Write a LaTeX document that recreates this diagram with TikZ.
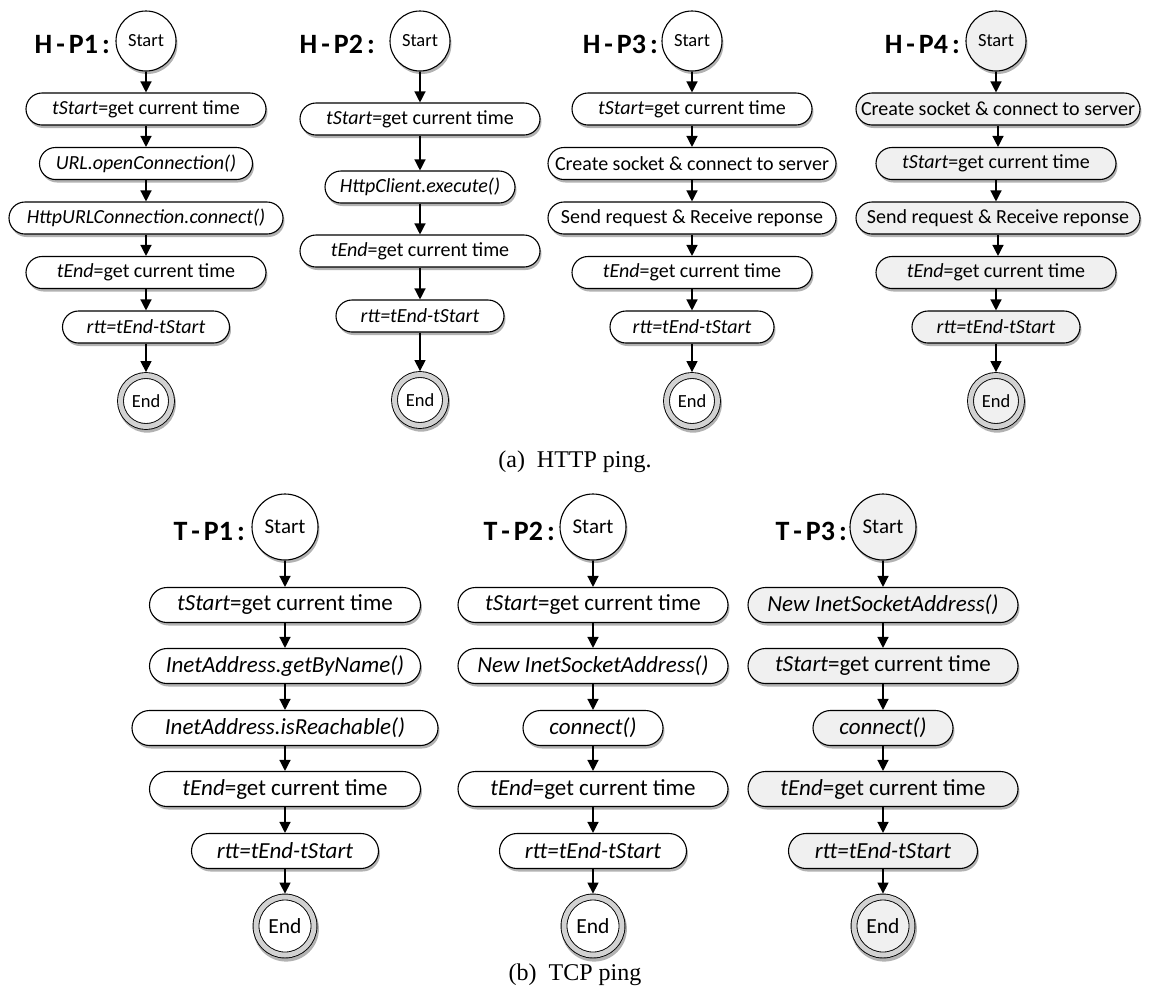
\documentclass[tikz,border=0pt]{standalone}
\usepackage{fontspec}
\setmainfont{Liberation Serif}
\newfontfamily\calfont{Carlito}
\usetikzlibrary{arrows.meta,shadows}

\newcommand{\fsz}[1]{\fontsize{#1}{#1}\selectfont}

\tikzset{
  shade/.style={drop shadow={shadow xshift=1.5pt, shadow yshift=-3pt, opacity=0.3, fill=black}},
  % process boxes, upper and lower part
  pa/.style={draw, line width=1.1pt, fill=white, rounded corners=16pt,
    minimum height=32pt, inner sep=0pt, font=\calfont\fsz{20}, shade},
  pb/.style={draw, line width=1.1pt, fill=white, rounded corners=17.5pt,
    minimum height=35pt, inner sep=0pt, font=\calfont\fsz{23}, shade},
  % start / end states
  sa/.style={circle, draw, line width=1.1pt, fill=white, minimum size=60pt,
    inner sep=0pt, font=\calfont\fsz{18.5}, shade},
  sb/.style={sa, minimum size=66pt, font=\calfont\fsz{21}},
  ea/.style={circle, draw, line width=0.9pt, double=gray!35, double distance=5pt,
    fill=white, minimum size=51pt, inner sep=0pt, outer sep=3.4pt,
    font=\calfont\fsz{18.5},
    drop shadow={shadow scale=1.13, shadow xshift=1pt, shadow yshift=-2.5pt, opacity=0.3, fill=black}},
  eb/.style={ea, minimum size=58pt, font=\calfont\fsz{21.5}},
  lite/.style={fill=gray!12},
  lbl/.style={anchor=base east, inner sep=0pt, font=\calfont\bfseries\fsz{28}},
  arr/.style={-{Triangle[width=11pt,length=11pt]}, line width=1.3pt},
  captxt/.style={anchor=base, inner sep=0pt, font=\fsz{24}}
}

\newcommand{\hp}[1]{H\kern4pt-\kern4pt P#1\kern4pt:}
\newcommand{\tp}[1]{T\kern4pt-\kern4pt P#1\kern4pt:}

\begin{document}
\begin{tikzpicture}[x=1pt, y=-1pt]
\useasboundingbox (0,0) rectangle (1152,994);

% ---------------- H-P1 ----------------
\node[lbl] (l1) at (110,53) {\hp{1}};
\node[sa] (a1s) at (146,41) {Start};
\node[pa, minimum width=240pt] (a1a) at (146,109) {\textit{tStart}=get current time};
\node[pa, minimum width=213pt] (a1b) at (146,163.5) {\textit{URL.openConnection()}};
\node[pa, minimum width=274pt] (a1c) at (146,218) {\textit{HttpURLConnection.connect()}};
\node[pa, minimum width=240pt] (a1d) at (146,272.5) {\textit{tEnd}=get current time};
\node[pa, minimum width=167pt] (a1e) at (146,327) {\textit{rtt=tEnd-tStart}};
\node[ea] (a1f) at (146,401) {End};
\foreach \u/\v in {a1s/a1a, a1a/a1b, a1b/a1c, a1c/a1d, a1d/a1e, a1e/a1f}
  \draw[arr] (\u.south) -- (\v.north);

% ---------------- H-P2 ----------------
\node[lbl] (l2) at (375,53) {\hp{2}};
\node[sa] (a2s) at (420,41) {Start};
\node[pa, minimum width=240pt] (a2a) at (420,119) {\textit{tStart}=get current time};
\node[pa, minimum width=190pt] (a2b) at (420,187) {\textit{HttpClient.execute()}};
\node[pa, minimum width=240pt] (a2c) at (420,251) {\textit{tEnd}=get current time};
\node[pa, minimum width=168pt] (a2d) at (420,316) {\textit{rtt=tEnd-tStart}};
\node[ea] (a2e) at (420,400) {End};
\foreach \u/\v in {a2s/a2a, a2a/a2b, a2b/a2c, a2c/a2d, a2d/a2e}
  \draw[arr] (\u.south) -- (\v.north);

% ---------------- H-P3 ----------------
\node[lbl] (l3) at (658,53) {\hp{3}};
\node[sa] (a3s) at (692,41) {Start};
\node[pa, minimum width=240pt] (a3a) at (692,109) {\textit{tStart}=get current time};
\node[pa, minimum width=288pt] (a3b) at (692,163.5) {Create socket \& connect to server};
\node[pa, minimum width=288pt] (a3c) at (692,218) {Send request \& Receive reponse};
\node[pa, minimum width=240pt] (a3d) at (692,272.5) {\textit{tEnd}=get current time};
\node[pa, minimum width=164pt] (a3e) at (692,327) {\textit{rtt=tEnd-tStart}};
\node[ea] (a3f) at (692,401) {End};
\foreach \u/\v in {a3s/a3a, a3a/a3b, a3b/a3c, a3c/a3d, a3d/a3e, a3e/a3f}
  \draw[arr] (\u.south) -- (\v.north);

% ---------------- H-P4 ----------------
\node[lbl] (l4) at (960,53) {\hp{4}};
\node[sa, lite] (a4s) at (996,41) {Start};
\node[pa, lite, minimum width=284pt] (a4a) at (998,109) {Create socket \& connect to server};
\node[pa, lite, minimum width=240pt] (a4b) at (996,163.5) {\textit{tStart}=get current time};
\node[pa, lite, minimum width=284pt] (a4c) at (998,218) {Send request \& Receive reponse};
\node[pa, lite, minimum width=240pt] (a4d) at (996,272.5) {\textit{tEnd}=get current time};
\node[pa, lite, minimum width=168pt] (a4e) at (996,327) {\textit{rtt=tEnd-tStart}};
\node[ea, lite] (a4f) at (996,401) {End};
\foreach \u/\v in {a4s/a4a, a4a/a4b, a4b/a4c, a4c/a4d, a4d/a4e, a4e/a4f}
  \draw[arr] (\u.south) -- (\u.south |- \v.north);

\node[captxt] (capa) at (575,467) {(a)~~HTTP ping.};

% ---------------- T-P1 ----------------
\node[lbl] (m1) at (245,540) {\tp{1}};
\node[sb] (b1s) at (285,527) {Start};
\node[pb, minimum width=271pt] (b1a) at (285,605) {\textit{tStart}=get current time};
\node[pb, minimum width=271pt] (b1b) at (285,666) {\textit{InetAddress.getByName()}};
\node[pb, minimum width=306pt] (b1c) at (285,728) {\textit{InetAddress.isReachable()}};
\node[pb, minimum width=271pt] (b1d) at (285,789) {\textit{tEnd}=get current time};
\node[pb, minimum width=187pt] (b1e) at (285,851) {\textit{rtt=tEnd-tStart}};
\node[eb] (b1f) at (285,926) {End};
\foreach \u/\v in {b1s/b1a, b1a/b1b, b1b/b1c, b1c/b1d, b1d/b1e, b1e/b1f}
  \draw[arr] (\u.south) -- (\v.north);

% ---------------- T-P2 ----------------
\node[lbl] (m2) at (555,540) {\tp{2}};
\node[sb] (b2s) at (593,527) {Start};
\node[pb, minimum width=270pt] (b2a) at (593,605) {\textit{tStart}=get current time};
\node[pb, minimum width=270pt] (b2b) at (593,666) {\textit{New InetSocketAddress()}};
\node[pb, minimum width=140pt] (b2c) at (593,728) {\textit{connect()}};
\node[pb, minimum width=270pt] (b2d) at (593,789) {\textit{tEnd}=get current time};
\node[pb, minimum width=187pt] (b2e) at (593,851) {\textit{rtt=tEnd-tStart}};
\node[eb] (b2f) at (593,926) {End};
\foreach \u/\v in {b2s/b2a, b2a/b2b, b2b/b2c, b2c/b2d, b2d/b2e, b2e/b2f}
  \draw[arr] (\u.south) -- (\v.north);

% ---------------- T-P3 ----------------
\node[lbl] (m3) at (847,540) {\tp{3}};
\node[sb, lite] (b3s) at (883,527) {Start};
\node[pb, lite, minimum width=270pt] (b3a) at (883,605) {\textit{New InetSocketAddress()}};
\node[pb, lite, minimum width=270pt] (b3b) at (883,666) {\textit{tStart}=get current time};
\node[pb, lite, minimum width=140pt] (b3c) at (883,728) {\textit{connect()}};
\node[pb, lite, minimum width=270pt] (b3d) at (883,789) {\textit{tEnd}=get current time};
\node[pb, lite, minimum width=189pt] (b3e) at (883,851) {\textit{rtt=tEnd-tStart}};
\node[eb, lite] (b3f) at (883,926) {End};
\foreach \u/\v in {b3s/b3a, b3a/b3b, b3b/b3c, b3c/b3d, b3d/b3e, b3e/b3f}
  \draw[arr] (\u.south) -- (\v.north);

\node[captxt] (capb) at (575,980) {(b)~~TCP ping};
\end{tikzpicture}
\end{document}
